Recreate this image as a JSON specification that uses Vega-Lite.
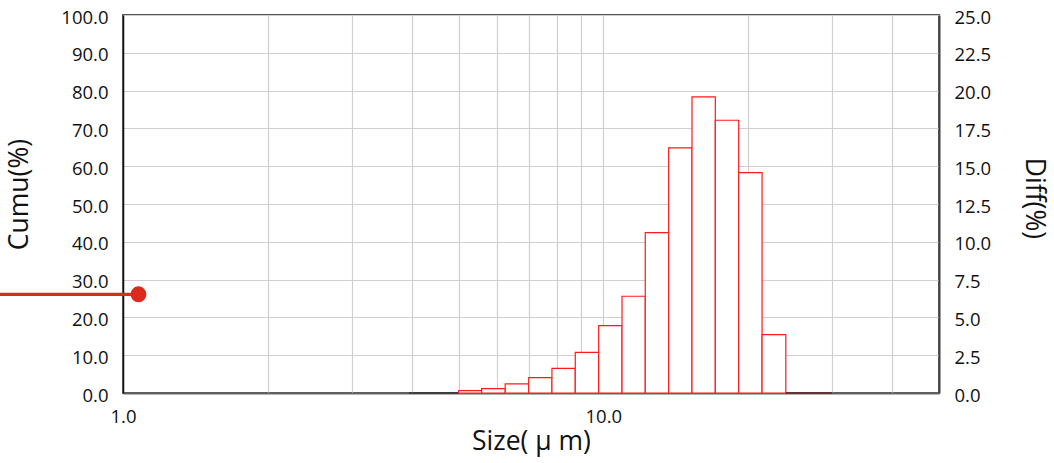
{
  "$schema": "https://vega.github.io/schema/vega-lite/v6.json",
  "autosize": "none",
  "width": 816,
  "height": 378,
  "padding": {"left": 123, "top": 15, "right": 115, "bottom": 70},
  "background": "white",
  "config": {
    "font": "Open Sans",
    "view": {"stroke": "#555555", "strokeWidth": 2},
    "axis": {
      "labelFont": "Open Sans",
      "labelFontSize": 18.5,
      "labelColor": "#111111",
      "titleFont": "Open Sans",
      "titleFontSize": 26.5,
      "titleFontWeight": "normal",
      "titleColor": "#111111",
      "ticks": false,
      "gridColor": "#cfcfcf",
      "gridWidth": 1.2,
      "labelOverlap": false
    }
  },
  "layer": [
    {
      "data": {
        "values": [
          {"lo": 3.94, "hi": 4.469, "diff": 0},
          {"lo": 4.469, "hi": 4.998, "diff": 0},
          {"lo": 4.998, "hi": 5.58, "diff": 0.16},
          {"lo": 5.58, "hi": 6.249, "diff": 0.29},
          {"lo": 6.249, "hi": 6.993, "diff": 0.6},
          {"lo": 6.993, "hi": 7.818, "diff": 1.02},
          {"lo": 7.818, "hi": 8.743, "diff": 1.63},
          {"lo": 8.743, "hi": 9.782, "diff": 2.69},
          {"lo": 9.782, "hi": 10.94, "diff": 4.46},
          {"lo": 10.94, "hi": 12.23, "diff": 6.4},
          {"lo": 12.23, "hi": 13.68, "diff": 10.61},
          {"lo": 13.68, "hi": 15.3, "diff": 16.21},
          {"lo": 15.3, "hi": 17.11, "diff": 19.58},
          {"lo": 17.11, "hi": 19.14, "diff": 18.04},
          {"lo": 19.14, "hi": 21.41, "diff": 14.58},
          {"lo": 21.41, "hi": 23.99, "diff": 3.86},
          {"lo": 23.99, "hi": 26.83, "diff": 0},
          {"lo": 26.83, "hi": 30.0, "diff": 0}
        ]
      },
      "mark": {"type": "rect", "fill": "white", "strokeWidth": 1.2},
      "encoding": {
        "x": {
          "field": "lo",
          "type": "quantitative",
          "scale": {"type": "log", "domain": [1, 50]},
          "axis": {
            "orient": "bottom",
            "values": [1, 2, 3, 4, 5, 6, 7, 8, 9, 10, 20, 30, 40, 50],
            "labelExpr": "datum.value == 1 || datum.value == 10 ? format(datum.value, '.1f') : ''",
            "grid": true,
            "domainColor": "#666666",
            "domainWidth": 2,
            "labelPadding": 14,
            "labelFlush": false,
            "titlePadding": 3,
            "title": "Size( μ m)"
          }
        },
        "x2": {"field": "hi"},
        "y": {
          "field": "diff",
          "type": "quantitative",
          "scale": {"domain": [0, 25]},
          "axis": {
            "orient": "right",
            "values": [0, 2.5, 5, 7.5, 10, 12.5, 15, 17.5, 20, 22.5, 25],
            "format": ".1f",
            "grid": false,
            "domainColor": "#444444",
            "domainWidth": 2,
            "labelPadding": 15,
            "labelOffset": 2,
            "labelFlush": false,
            "titlePadding": 29,
            "titleY": 183,
            "title": "Diff(%)"
          }
        },
        "y2": {"datum": 0},
        "stroke": {
          "condition": [
            {"test": "datum.diff == 0 && datum.lo < 5", "value": "#1a1a1a"},
            {"test": "datum.diff == 0", "value": "#5c0b0b"}
          ],
          "value": "#ff1a1a"
        }
      }
    },
    {
      "data": {"values": [{"from": 0.5, "to": 1.077, "cumu": 26.1}]},
      "encoding": {
        "y": {
          "field": "cumu",
          "type": "quantitative",
          "scale": {"domain": [0, 100]},
          "axis": {
            "orient": "left",
            "values": [0, 10, 20, 30, 40, 50, 60, 70, 80, 90, 100],
            "format": ".1f",
            "grid": true,
            "domainColor": "#111111",
            "domainWidth": 1.5,
            "labelPadding": 15,
            "labelOffset": 2,
            "labelFlush": false,
            "labelOverlap": false,
            "titlePadding": 27,
            "titleY": 179,
            "title": "Cumu(%)"
          }
        }
      },
      "layer": [
        {
          "mark": {"type": "rule", "color": "#dc2a1e", "strokeWidth": 3.3},
          "encoding": {
            "x": {"field": "from", "type": "quantitative", "scale": {"type": "log", "domain": [1, 50]}},
            "x2": {"field": "to"}
          }
        },
        {
          "mark": {"type": "point", "filled": true, "size": 254, "color": "#dc2a1e", "opacity": 1},
          "encoding": {
            "x": {"field": "to", "type": "quantitative", "scale": {"type": "log", "domain": [1, 50]}}
          }
        }
      ]
    }
  ],
  "resolve": {"scale": {"y": "independent"}}
}
